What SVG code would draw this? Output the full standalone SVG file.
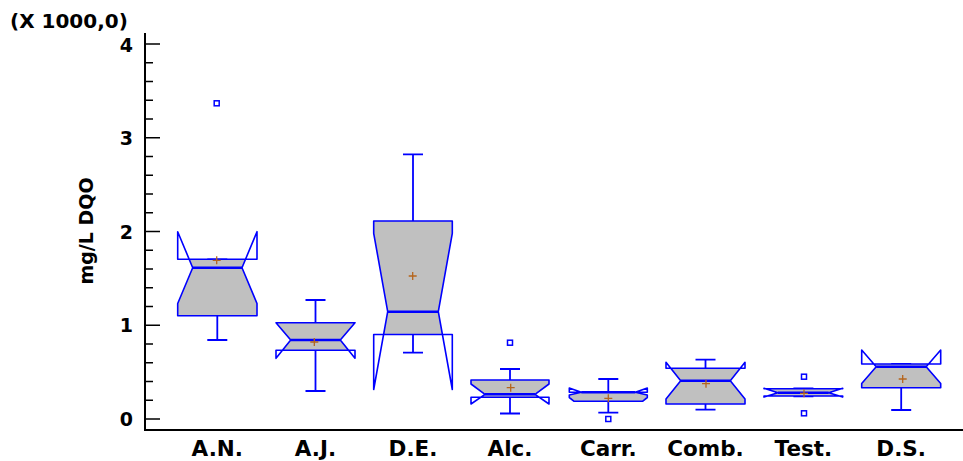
<svg xmlns="http://www.w3.org/2000/svg" width="963" height="461" viewBox="0 0 963 461">
<style>
.t{font-family:"DejaVu Sans","Liberation Sans",sans-serif;font-weight:bold;fill:#000}
.ax{stroke:#000;stroke-width:2;fill:none}
.tk{stroke:#000;stroke-width:1.6;fill:none}
.fill{fill:#c0c0c0;stroke:none}
.ol{fill:none;stroke:#0000ff;stroke-width:1.6;stroke-linejoin:round}
.md{fill:none;stroke:#0000ff;stroke-width:2.6}
.wk{fill:none;stroke:#0000ff;stroke-width:1.8}
.mn{fill:none;stroke:#b5651d;stroke-width:1.3}
.out{fill:#fff;stroke:#0000ff;stroke-width:1.5}
</style>
<rect width="963" height="461" fill="#fff"/>
<g id="axes">
<path class="ax" d="M145,33 V431 M144,430 H963"/>
<path class="tk" d="M145,419 H160 M145,325.25 H160 M145,231.5 H160 M145,137.75 H160 M145,44 H160"/>
<path class="tk" d="M145,400.25 H153 M145,381.5 H153 M145,362.75 H153 M145,344 H153 M145,306.5 H153 M145,287.75 H153 M145,269 H153 M145,250.25 H153 M145,212.75 H153 M145,194 H153 M145,175.25 H153 M145,156.5 H153 M145,119 H153 M145,100.25 H153 M145,81.5 H153 M145,62.75 H153"/>
<g class="t" font-size="19" text-anchor="end">
<text x="133" y="426">0</text>
<text x="133" y="332.3">1</text>
<text x="133" y="238.5">2</text>
<text x="133" y="144.8">3</text>
<text x="133" y="51.5">4</text>
</g>
<text class="t" x="10" y="28" font-size="20">(X 1000,0)</text>
<text class="t" font-size="19" text-anchor="middle" transform="translate(93,231) rotate(-90)">mg/L DQO</text>
<g class="t" font-size="21.5" text-anchor="middle">
<text x="217.3" y="455.5">A.N.</text>
<text x="315.5" y="455.5">A.J.</text>
<text x="413" y="455.5">D.E.</text>
<text x="510" y="455.5">Alc.</text>
<text x="608.3" y="455.5">Carr.</text>
<text x="705.5" y="455.5">Comb.</text>
<text x="803.4" y="455.5">Test.</text>
<text x="901.2" y="455.5">D.S.</text>
</g>
</g>
<g id="connectors">
<path class="wk" d="M217.3,315.7 V340 M207.3,340 H227.3 M207.3,259.3 H227.3"/>
<path class="wk" d="M315.5,322.7 V300 M305.5,300 H325.5 M315.5,350.3 V391 M305.5,391 H325.5"/>
<path class="wk" d="M413,221 V154.3 M403,154.3 H423 M413,334.5 V352.7 M403,352.7 H423"/>
<path class="wk" d="M510,380 V369 M500,369 H520 M510,397.3 V413.5 M500,413.5 H520"/>
<path class="wk" d="M608.3,392.3 V379 M598.3,379 H618.3 M608.3,401.3 V412.7 M598.3,412.7 H618.3"/>
<path class="wk" d="M705.5,368.3 V359.7 M695.5,359.7 H715.5 M705.5,404 V409.7 M695.5,409.7 H715.5"/>
<path class="md" d="M793.4,388.8 H813.4 M793.4,396 H813.4"/>
<path class="wk" d="M891.2,364 H911.2 M901.2,387.7 V410 M891.2,410 H911.2"/>
</g>
<g id="box-AN">
<polygon class="fill" points="189.2,259.3 192.7,267.7 177.7,303.5 177.7,315.7 257,315.7 257,303.5 242,267.7 245.5,259.3"/>
<path class="ol" d="M177.7,259.3 V231.7 L192.7,267.7 L177.7,303.5 V315.7 H257 V303.5 L242,267.7 L257,231.7 V259.3 Z"/>
<path class="md" d="M192.7,267.7 H242"/>
<path class="mn" d="M212.7,260.3 H220.7 M216.7,256.3 V264.3"/>
<rect class="out" x="214.2" y="100.8" width="5" height="5"/>
</g>
<g id="box-AJ">
<polygon class="fill" points="276.6,322.7 290.7,340 282.4,350.3 348.6,350.3 340.3,340 354.4,322.7"/>
<path class="ol" d="M276,322.7 L290.7,340 L276,358.3 V350.3 H355 V358.3 L340.3,340 L355,322.7 Z"/>
<path class="md" d="M290.7,340 H340.3"/>
<path class="mn" d="M310.3,342 H318.3 M314.3,338 V346"/>
</g>
<g id="box-DE">
<polygon class="fill" points="373.7,221 373.7,233.3 387.7,311.7 383.6,334.5 442.4,334.5 438.3,311.7 452.3,233.3 452.3,221"/>
<path class="ol" d="M373.7,334.5 V389.5 L387.7,311.7 L373.7,233.3 V221 H452.3 V233.3 L438.3,311.7 L452.3,389.5 V334.5 Z"/>
<path class="md" d="M387.7,311.7 H438.3"/>
<path class="mn" d="M408.7,276 H416.7 M412.7,272 V280"/>
</g>
<g id="box-Alc">
<polygon class="fill" points="471,380 471,384 485,394.3 480.7,397.3 539.3,397.3 535,394.3 549,384 549,380"/>
<path class="ol" d="M471,397.3 V404 L485,394.3 L471,384 V380 H549 V384 L535,394.3 L549,404 V397.3 Z"/>
<path class="md" d="M485,394.3 H535"/>
<path class="mn" d="M506.7,387.7 H514.7 M510.7,383.7 V391.7"/>
<rect class="out" x="507.5" y="340.2" width="5" height="5"/>
</g>
<g id="box-Carr">
<polygon class="fill" points="581.3,392.3 635.3,392.3 647.3,395 647.3,397.5 642.5,401.3 574.1,401.3 569.3,397.5 569.3,395"/>
<path class="ol" d="M569.3,392.3 V388 L581.3,392.3 L569.3,395 V397.5 L574.1,401.3 H642.5 L647.3,397.5 V395 L635.3,392.3 L647.3,388 V392.3 Z"/>
<path class="md" d="M581.3,392.3 H635.3"/>
<path class="mn" d="M604.3,398.3 H612.3 M608.3,394.3 V402.3"/>
<rect class="out" x="605.8" y="416.5" width="5" height="5"/>
</g>
<g id="box-Comb">
<polygon class="fill" points="670.8,368.3 680.7,380.7 666,399.1 666,404 745,404 745,399.1 730.3,380.7 740.2,368.3"/>
<path class="ol" d="M666,368.3 V362.3 L680.7,380.7 L666,399.1 V404 H745 V399.1 L730.3,380.7 L745,362.3 V368.3 Z"/>
<path class="md" d="M680.7,380.7 H730.3"/>
<path class="mn" d="M702,383.7 H710 M706,379.7 V387.7"/>
</g>
<g id="box-Test">
<polygon class="fill" points="765.6,388.8 778,392.7 767.5,396 839.2,396 828.7,392.7 841.1,388.8"/>
<path class="ol" d="M764,388.8 V388.3 L778,392.7 L764,397.1 V396 H842.7 V397.1 L828.7,392.7 L842.7,388.3 V388.8 Z"/>
<path class="md" d="M778,392.7 H828.7"/>
<path class="mn" d="M800,393.3 H808 M804,389.3 V397.3"/>
<rect class="out" x="801.5" y="374.2" width="5" height="5"/>
<rect class="out" x="801.5" y="410.8" width="5" height="5"/>
</g>
<g id="box-DS">
<polygon class="fill" points="873.9,364 876.2,366.7 861.7,383.4 861.7,387.7 940.7,387.7 940.7,383.4 926.2,366.7 928.5,364"/>
<path class="ol" d="M861.7,364 V350 L876.2,366.7 L861.7,383.4 V387.7 H940.7 V383.4 L926.2,366.7 L940.7,350 V364 Z"/>
<path class="md" d="M876.2,366.7 H926.2"/>
<path class="mn" d="M898.7,379 H906.7 M902.7,375 V383"/>
</g>
</svg>
